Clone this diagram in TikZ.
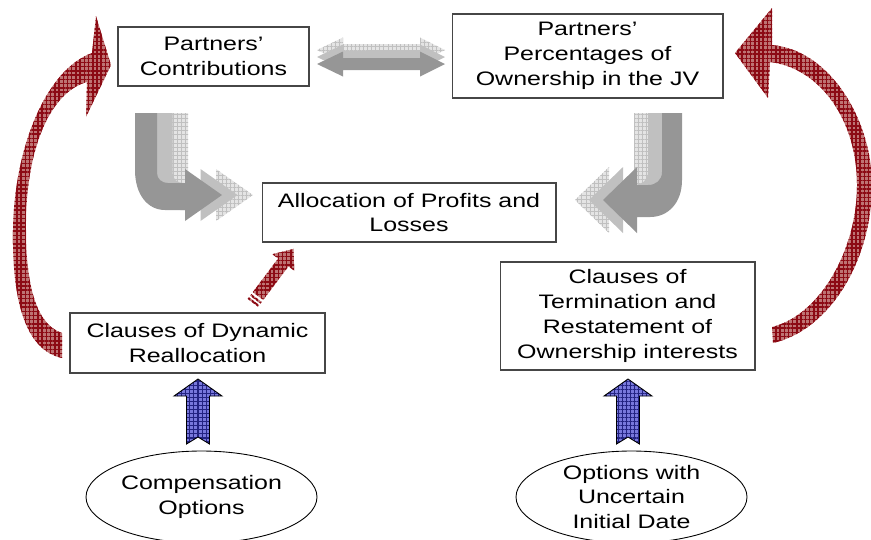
\documentclass[tikz,border=0pt]{standalone}
\usepackage{fontspec}
\setmainfont{Liberation Sans}[FakeStretch=1.28]
\usetikzlibrary{patterns.meta}

\definecolor{redbase}{RGB}{190,115,115}
\definecolor{redgrid}{RGB}{140,10,20}
\definecolor{bluebase}{RGB}{120,120,220}
\definecolor{bluegrid}{RGB}{35,35,130}
\definecolor{graydk}{RGB}{150,150,150}
\definecolor{graymd}{RGB}{192,192,192}
\definecolor{graylt}{RGB}{228,228,228}
\definecolor{boxline}{RGB}{70,70,70}

\tikzset{
  box/.style={draw=boxline,line width=0.6pt,align=center,inner sep=0pt,
    font=\fontsize{11.1}{14.2}\selectfont},
  oval/.style={align=center,inner sep=0pt,font=\fontsize{11.1}{14.2}\selectfont},
  redarrow/.style={fill=redbase,postaction={pattern={Hatch[angle=0,distance=2.4pt,line width=0.85pt]},pattern color=redgrid}},
  bluearrow/.style={fill=bluebase,postaction={pattern={Hatch[angle=0,distance=2.3pt,line width=0.6pt]},pattern color=bluegrid},
    postaction={draw=black,line width=0.5pt}},
  graydark/.style={fill=graydk},
  graymid/.style={fill=graymd},
  graypat/.style={fill=graylt,postaction={pattern={Hatch[angle=0,distance=2.3pt,line width=0.5pt]},pattern color=graymd}}
}

\begin{document}
\begin{tikzpicture}[x=0.02cm,y=-0.02cm]

%SPACING
\useasboundingbox (0,0) rectangle (871,539);
%SPACING

\node[box,minimum width=3.82cm,minimum height=1.18cm](contrib) at (213.5,56.5) {Partners'\\Contributions};
\node[box,minimum width=5.42cm,minimum height=1.68cm](percent) at (587.5,56) {Partners'\\Percentages of\\Ownership in the JV};
\node[box,minimum width=5.88cm,minimum height=1.18cm](alloc) at (409,212.5) {Allocation of Profits and\\Losses};
\node[box,minimum width=5.10cm,minimum height=1.20cm](dynreal) at (197.5,343) {Clauses of Dynamic\\Reallocation};
\node[box,minimum width=5.10cm,minimum height=2.16cm](termin) at (627.5,316) {Clauses of\\Termination and\\Restatement of\\Ownership interests};

\node[oval](comp) at (201.5,497) {Compensation\\Options};
\node[oval](opts) at (631.5,497) {Options with\\Uncertain\\Initial Date};
\draw[line width=0.5pt] (comp.center) ellipse [x radius=115.5,y radius=46];
\draw[line width=0.5pt] (opts.center) ellipse [x radius=115.5,y radius=46];

%GRAY ARROWS
\foreach \dy/\sty in {-14/graypat,-7/graymid,0/graydark}
  \fill[\sty,shift={(0,\dy)}] (317,64) -- (343,51.5) -- (343,58) -- (420,58) -- (420,51.5) -- (445,64)
    -- (420,76.5) -- (420,70) -- (343,70) -- (343,76.5) -- cycle;

\foreach \dx/\sty in {31/graypat,15.5/graymid,0/graydark}
  \fill[\sty,shift={(\dx,0)}] (135,113) -- (135,170) .. controls (135,195) and (148,210) .. (165,210)
    -- (185,210) -- (185,221) -- (222,195) -- (185,169) -- (185,183) -- (168,183)
    .. controls (162,183) and (157,179) .. (157,173) -- (157,113) -- cycle;

\foreach \dx/\sty in {-28/graypat,-14/graymid,0/graydark}
  \fill[\sty,shift={(\dx,0)}] (682,113) -- (682,180) .. controls (682,203) and (668,217) .. (650,217)
    -- (637,217) -- (637,233) -- (603,200) -- (637,167) -- (637,185) -- (648,185)
    .. controls (656,185) and (662,180) .. (662,172) -- (662,113) -- cycle;

%RED ARROWS
\fill[redarrow] (62,358) .. controls (25,350) and (12,300) .. (13,230) .. controls (14,150) and (45,70) .. (92,53)
  -- (96,16) -- (111,65) -- (86,117) -- (87,82) .. controls (50,92) and (25,150) .. (26,230)
  .. controls (26,290) and (38,325) .. (62,333) -- cycle;

\fill[redarrow] (773,343) .. controls (830,330) and (872,260) .. (872,185) .. controls (872,120) and (830,50) .. (772,45)
  -- (772,8) -- (735,53) -- (768,98) -- (770,62) .. controls (820,68) and (857,120) .. (857,185)
  .. controls (857,250) and (820,315) .. (772,327) -- cycle;

\begin{scope}[shift={(258,296)},rotate=53]
\fill[redarrow] (0,-6.5) -- (42,-6.5) -- (42,-13.7) -- (59,0) -- (42,13.7) -- (42,6.5) -- (0,6.5) -- cycle;
\fill[redarrow] (-4.5,-6.5) -- (-2.5,-6.5) -- (-2.5,6.5) -- (-4.5,6.5) -- cycle;
\fill[redarrow] (-8.5,-6.5) -- (-6.5,-6.5) -- (-6.5,6.5) -- (-8.5,6.5) -- cycle;
\end{scope}

%BLUE ARROWS
\foreach \cx in {198,628}
  \path[bluearrow] ({\cx-11.5},444) -- ({\cx-11.5},396) -- ({\cx-24},396) -- (\cx,379) -- ({\cx+24},396)
    -- ({\cx+11.5},396) -- ({\cx+11.5},444) -- (\cx,437) -- cycle;

\end{tikzpicture}
\end{document}
